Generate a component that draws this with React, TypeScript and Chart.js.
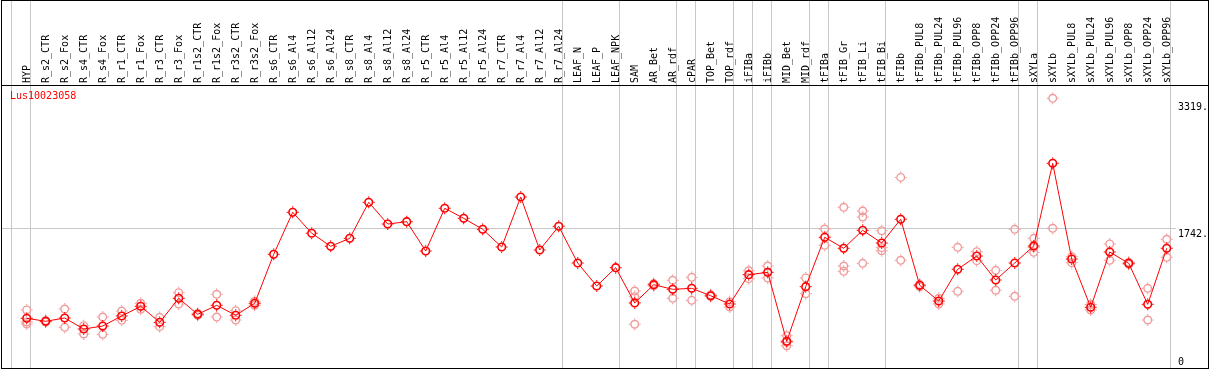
import React, { useEffect, useRef } from "react";
import { Chart, registerables } from "chart.js";

Chart.register(...registerables);

const categories = [
  "HYP", "R_s2_CTR", "R_s2_Fox", "R_s4_CTR", "R_s4_Fox", "R_r1_CTR", "R_r1_Fox", "R_r3_CTR", "R_r3_Fox",
  "R_r1s2_CTR", "R_r1s2_Fox", "R_r3s2_CTR", "R_r3s2_Fox", "R_s6_CTR", "R_s6_Al4", "R_s6_Al12", "R_s6_Al24",
  "R_s8_CTR", "R_s8_Al4", "R_s8_Al12", "R_s8_Al24", "R_r5_CTR", "R_r5_Al4", "R_r5_Al12", "R_r5_Al24",
  "R_r7_CTR", "R_r7_Al4", "R_r7_Al12", "R_r7_Al24", "LEAF_N", "LEAF_P", "LEAF_NPK", "SAM", "AR_Bet", "AR_rdf",
  "cPAR", "TOP_Bet", "TOP_rdf", "iFIBa", "iFIBb", "MID_Bet", "MID_rdf", "tFIBa", "tFIB_Gr", "tFIB_Li", "tFIB_Bi",
  "tFIBb", "tFIBb_PUL8", "tFIBb_PUL24", "tFIBb_PUL96", "tFIBb_OPP8", "tFIBb_OPP24", "tFIBb_OPP96", "sXYLa",
  "sXYLb", "sXYLb_PUL8", "sXYLb_PUL24", "sXYLb_PUL96", "sXYLb_OPP8", "sXYLb_OPP24", "sXYLb_OPP96",
];

const meanValues = [
  618, 581, 622, 485, 522, 647, 767, 568, 867, 668, 780, 656, 805, 1414, 1937, 1676, 1514,
  1613, 2061, 1791, 1820, 1455, 1987, 1862, 1725, 1505, 2127, 1468, 1763, 1306, 1020, 1248,
  809, 1036, 979, 991, 899, 796, 1161, 1190, 332, 1012, 1626, 1489, 1713, 1555,
  1850, 1029, 833, 1228, 1393, 1095, 1306, 1518, 2546, 1356, 755, 1443, 1302, 792, 1489,
];

const rep1 = [
  722, 590, 734, 526, 634, 709, 805, 630, 937, 680, 917, 713, 830, null, null, null, null,
  null, null, null, null, null, null, null, null, null, null, null, null, null, null, null,
  958, 1050, 1091, 1128, 910, 825, 1210, 1269, 402, 1120, 1729, 1999, 1953, 1708,
  2371, 1040, 867, 1501, 1447, 1215, 1725, 1613, 3355, 1385, 722, 1543, 1315, 991, 1601,
];

const rep2 = [
  572, 572, 506, 423, 419, 593, 730, 514, 796, 656, 634, 597, 780, null, null, null, null,
  null, null, null, null, null, null, null, null, null, null, null, null, null, null, null,
  887, 1022, 867, 842, 890, 759, 1111, 1120, 277, 924, 1526, 1269, 1878, 1497,
  1340, 1010, 796, 954, 1335, 967, 892, 1439, 1738, 1310, 790, 1340, 1290, 597, 1377,
];

const rep3 = [
  547, null, null, null, null, null, null, null, null, null, null, null, null, null, null, null, null,
  null, null, null, null, null, null, null, null, null, null, null, null, null, null, null,
  544, null, null, null, null, null, null, null, 318, null, null, 1203, 1302, 1459,
  null, null, null, null, null, null, null, 1500, null, null, null, null, null, null, null,
];

const groupEnds = [-1, 0, 28, 31, 34, 35, 37, 38, 39, 41, 42, 45, 52, 53, 60];
const axisTickValues = [0, 1742, 3319];
const axisTickLabels = ["0", "1742.", "3319."];
const geneLabel = "Lus10023058";
const yMaxValue = 3508;

const MONO = '10px "DejaVu Sans Mono", monospace';
const MEAN_COLOR = "#ff0000";
const REP_COLOR = "#f09a9a";

const framePlugin = {
  id: "framePlugin",
  beforeDatasetsDraw(chart: any) {
    const { ctx } = chart;
    const xs = chart.scales.x;
    const ys = chart.scales.y;
    ctx.save();
    ctx.strokeStyle = "#c8c8c8";
    ctx.lineWidth = 1;
    groupEnds.forEach((i) => {
      const px = Math.floor(xs.getPixelForValue(i) + 4) + 0.5;
      ctx.beginPath();
      ctx.moveTo(px, 0);
      ctx.lineTo(px, 368);
      ctx.stroke();
    });
    const gy = Math.round(ys.getPixelForValue(1742)) + 0.5;
    ctx.beginPath();
    ctx.moveTo(2, gy);
    ctx.lineTo(1176, gy);
    ctx.stroke();
    ctx.restore();
  },
  afterDatasetDraw(chart: any, args: any) {
    // small tick spikes around each marker
    const { ctx } = chart;
    const meta = args.meta;
    const color = args.index === 0 ? MEAN_COLOR : REP_COLOR;
    ctx.save();
    ctx.fillStyle = color;
    meta.data.forEach((pt: any) => {
      const x = pt.x;
      const y = pt.y;
      ctx.fillRect(x - 0.5, y - 6, 1, 1.5);
      ctx.fillRect(x - 0.5, y + 4.5, 1, 1.5);
      ctx.fillRect(x - 6, y - 0.5, 1.5, 1);
      ctx.fillRect(x + 4.5, y - 0.5, 1.5, 1);
    });
    ctx.restore();
  },
  afterDraw(chart: any) {
    const { ctx } = chart;
    const xs = chart.scales.x;
    const ys = chart.scales.y;
    ctx.save();
    ctx.fillStyle = "#000";
    ctx.fillRect(1, 0, 1, 369);
    ctx.fillRect(1208, 0, 1, 369);
    ctx.fillRect(1, 0, 1208, 1);
    ctx.fillRect(1, 85, 1208, 1);
    ctx.fillRect(1, 368, 1208, 1);

    ctx.font = MONO;
    ctx.fillStyle = "#000";
    ctx.textAlign = "left";
    ctx.textBaseline = "middle";
    categories.forEach((cat, i) => {
      const px = xs.getPixelForValue(i);
      ctx.save();
      ctx.translate(px + 0.5, 83);
      ctx.rotate(-Math.PI / 2);
      ctx.fillText(cat, 0, 0);
      ctx.restore();
    });

    ctx.fillStyle = MEAN_COLOR;
    ctx.textBaseline = "top";
    ctx.fillText(geneLabel, 10, 91);

    ctx.fillStyle = "#000";
    axisTickValues.forEach((v, k) => {
      const py = ys.getPixelForValue(v);
      if (v === 0) {
        ctx.textBaseline = "bottom";
        ctx.fillText(axisTickLabels[k], 1178, 367);
      } else {
        ctx.textBaseline = "top";
        ctx.fillText(axisTickLabels[k], 1178, py + 1);
      }
    });
    ctx.restore();
  },
};

export default function App() {
  const canvasRef = useRef<HTMLCanvasElement | null>(null);

  useEffect(() => {
    document.body.style.margin = "0";
    document.body.style.overflow = "hidden";
    const canvas = canvasRef.current!;

    const meanData = meanValues.map((v, i) => ({ x: i, y: v }));
    const repData: { x: number; y: number }[] = [];
    [rep1, rep2, rep3].forEach((arr) => {
      arr.forEach((v, i) => {
        if (v !== null && v !== undefined) repData.push({ x: i, y: v as number });
      });
    });

    const chart = new Chart(canvas, {
      type: "line",
      data: {
        datasets: [
          {
            label: "mean",
            data: meanData,
            borderColor: MEAN_COLOR,
            backgroundColor: MEAN_COLOR,
            borderWidth: 1,
            tension: 0,
            pointStyle: "circle",
            pointRadius: 3.8,
            pointBorderWidth: 1.6,
            pointBorderColor: MEAN_COLOR,
            pointBackgroundColor: "rgba(0,0,0,0)",
            order: 0,
          },
          {
            label: "replicates",
            data: repData,
            showLine: false,
            borderColor: REP_COLOR,
            backgroundColor: REP_COLOR,
            pointStyle: "circle",
            pointRadius: 3.8,
            pointBorderWidth: 1.4,
            pointBorderColor: REP_COLOR,
            pointBackgroundColor: "rgba(0,0,0,0)",
            order: 1,
          },
        ],
      },
      options: {
        responsive: false,
        animation: false,
        devicePixelRatio: 1,
        layout: { autoPadding: false, padding: { left: 2, right: 2, top: 86, bottom: 2 } },
        plugins: { legend: { display: false }, tooltip: { enabled: false } },
        events: [],
        scales: {
          x: { type: "linear", min: -1.3, max: 62.12, display: false },
          y: { type: "linear", min: 0, max: yMaxValue, display: false },
        },
      },
      plugins: [framePlugin],
    });
    return () => chart.destroy();
  }, []);

  return (
    <canvas
      ref={canvasRef}
      width={1209}
      height={370}
      style={{ display: "block", width: 1209, height: 370 }}
    />
  );
}
